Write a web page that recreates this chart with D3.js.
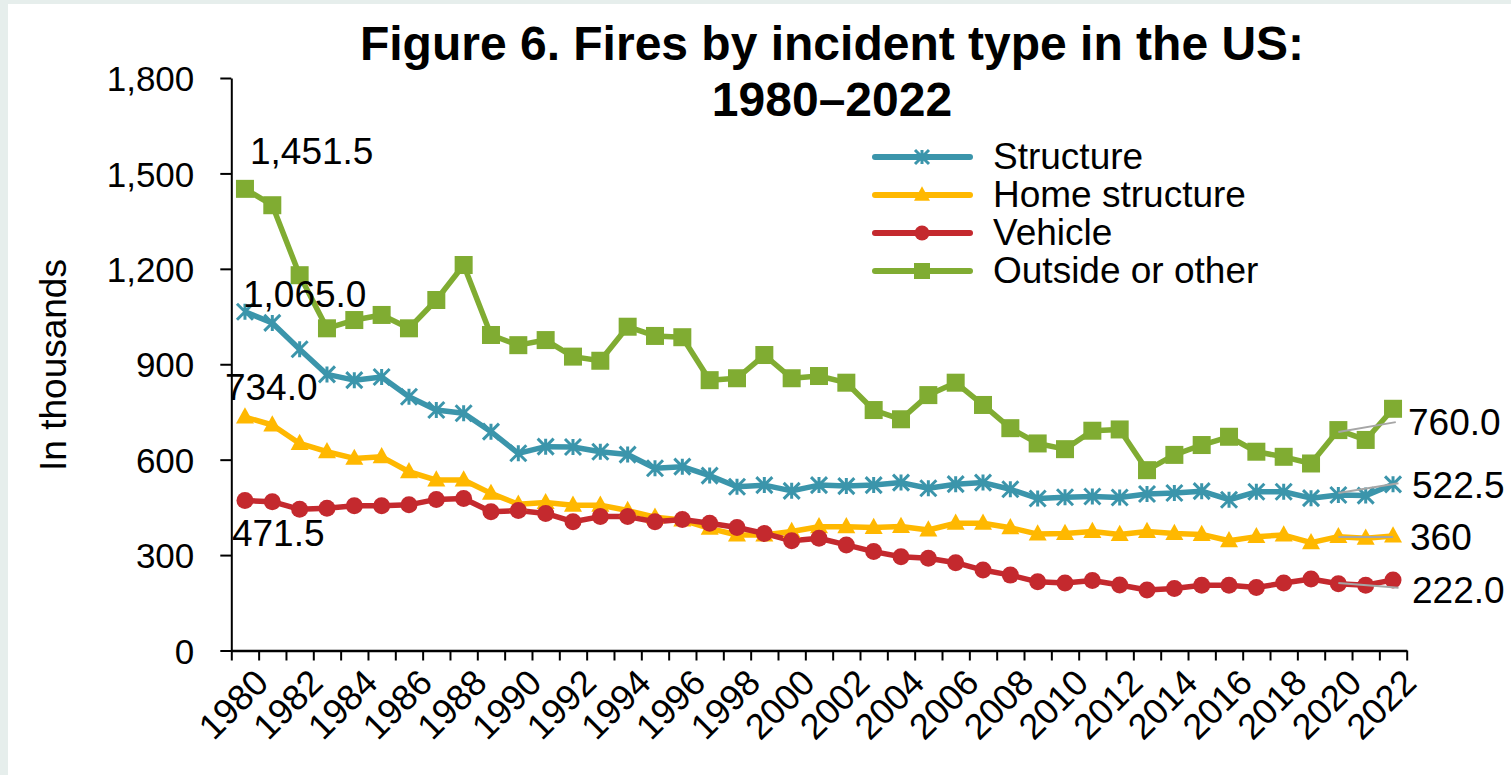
<!DOCTYPE html>
<html>
<head>
<meta charset="utf-8">
<script src="https://cdn.jsdelivr.net/npm/d3@7"></script>
<style>
  html, body { margin: 0; padding: 0; background: #e6eeec; }
  svg { display: block; }
  text { font-family: "Liberation Sans", Arial, sans-serif; fill: #000; }
</style>
</head>
<body>
<svg id="chart" width="1511" height="775"></svg>
<script>
// ---------- data ----------
const years = d3.range(1980, 2023);
const structure = [1065, 1030, 947, 868, 850, 860, 798, 756, 746, 688,
  620, 641, 640, 625, 616, 573, 578, 550, 515, 520,
  502, 520, 517, 520, 528, 510, 523, 528, 507, 478,
  482, 484, 481, 492, 495, 501, 474, 499, 499, 479,
  489, 487, 522.5];
const homeStructure = [734, 709, 651, 625, 604, 609, 562, 536, 536, 494,
  460, 465, 457, 457, 440, 419, 410, 384, 363, 363,
  374, 389, 389, 387, 390, 379, 400, 400, 386, 366,
  368, 374, 365, 374, 368, 365, 345, 358, 363, 339,
  358, 353, 360];
const vehicle = [471.5, 468, 444, 447, 455, 455, 458, 475, 478, 436,
  440, 431, 405, 421, 421, 405, 412, 400, 387, 368,
  345, 353, 332, 311, 295, 290, 276, 253, 237, 216,
  212, 220, 206, 190, 195, 205, 205, 198, 212, 225,
  210, 205, 222];
const outside = [1451.5, 1400, 1180, 1013, 1039, 1055, 1013, 1102, 1212, 992,
  960, 976, 924, 911, 1018, 989, 985, 850, 856, 929,
  856, 863, 842, 756, 727, 803, 842, 772, 699, 651,
  633, 691, 695, 567, 615, 646, 672, 625, 609, 588,
  693, 662, 760];
const seriesNames = ["Structure", "Home structure", "Vehicle", "Outside or other"];
const yTicks = [0, 300, 600, 900, 1200, 1500, 1800];
const xLabelYears = years.filter(y => (y - 1980) % 2 === 0);
// leader lines near the end labels (data units: [yearFrom, valueFrom, yearTo, valueTo])
const leaderLines = [
  [2020, 687, 2022.1, 718],
  [2020, 495, 2022.2, 526],
  [2020, 357, 2022, 357],
  [2020, 212, 2022.2, 197]
];

// ---------- styling ----------
const colors = ["#3b95ab", "#ffb800", "#c4292e", "#80ac32"];
const markers = ["star", "triangle", "circle", "square"];
const seriesData = [structure, homeStructure, vehicle, outside];

const svg = d3.select("#chart");
svg.append("rect").attr("x", 8).attr("y", 4).attr("width", 1503).attr("height", 771).attr("fill", "#fff");

const plotLeft = 231.3, plotRight = 1406.7, plotTop = 78, plotBottom = 650.5;

const x = d3.scaleBand().domain(years).range([plotLeft, plotRight]).padding(0);
const xc = d => x(d) + x.bandwidth() / 2;
const xLin = d3.scaleLinear().domain([1979.5, 2022.5]).range([plotLeft, plotRight]);
const y = d3.scaleLinear().domain([0, 1800]).range([plotBottom, plotTop]);

// Title
const title = svg.append("g").attr("text-anchor", "middle");
title.append("text").attr("x", 832).attr("y", 60).attr("font-size", 48).style("font-weight", "bold")
  .text("Figure 6. Fires by incident type in the US:");
title.append("text").attr("x", 832).attr("y", 116).attr("font-size", 48).style("font-weight", "bold")
  .text("1980–2022");

// Y axis
const yAxis = svg.append("g").attr("transform", `translate(${plotLeft},0)`)
  .call(d3.axisLeft(y).tickValues(yTicks).tickFormat(d3.format(",")).tickSize(11).tickSizeOuter(0).tickPadding(26));
yAxis.select(".domain").attr("stroke", "#000").attr("stroke-width", 2);
yAxis.selectAll(".tick line").attr("stroke", "#000").attr("stroke-width", 2);
yAxis.selectAll(".tick text").attr("font-size", 35).attr("dy", "0.36em")
  .style("font-family", '"Liberation Sans", Arial, sans-serif');

// X axis (ticks between categories)
const xAxis = svg.append("g").attr("transform", `translate(0,${plotBottom})`)
  .call(d3.axisBottom(xLin).tickValues(d3.range(1979.5, 2023, 1)).tickFormat("").tickSize(10).tickSizeOuter(0));
xAxis.select(".domain").attr("stroke", "#000").attr("stroke-width", 2.5);
xAxis.selectAll(".tick line").attr("stroke", "#000").attr("stroke-width", 2);

svg.append("g").selectAll("text").data(xLabelYears).join("text")
  .attr("transform", d => `translate(${xc(d) + 7},${plotBottom + 16}) rotate(-45)`)
  .attr("text-anchor", "end").attr("dy", "0.72em")
  .attr("font-size", 36).text(d => d);

// Y axis title
svg.append("text").attr("transform", "translate(66,365) rotate(-90)")
  .attr("text-anchor", "middle").attr("font-size", 37).text("In thousands");

// marker drawing
function drawMarker(g, type, color, size) {
  const s = size;
  if (type === "square") {
    g.append("rect").attr("x", -s / 2).attr("y", -s / 2).attr("width", s).attr("height", s).attr("fill", color);
  } else if (type === "circle") {
    g.append("circle").attr("r", s / 2).attr("fill", color);
  } else if (type === "triangle") {
    const h = s * 0.9;
    g.append("path").attr("d", `M0,${-h * 0.6}L${s / 2},${h * 0.4}L${-s / 2},${h * 0.4}Z`).attr("fill", color);
  } else if (type === "star") {
    const r = s / 2;
    g.append("path").attr("d", `M${-r},${-r}L${r},${r}M${-r},${r}L${r},${-r}M0,${-r}L0,${r}`)
      .attr("stroke", color).attr("stroke-width", 3).attr("fill", "none");
  }
}

// Lines
const line = d3.line().x((d, i) => xc(years[i])).y(d => y(d));
const markerSizes = [16, 18, 17, 18];
seriesData.forEach((vals, si) => {
  svg.append("path").datum(vals).attr("d", line)
    .attr("fill", "none").attr("stroke", colors[si]).attr("stroke-width", 5.5)
    .attr("stroke-linejoin", "round");
});
seriesData.forEach((vals, si) => {
  const g = svg.append("g");
  vals.forEach((v, i) => {
    const mg = g.append("g").attr("transform", `translate(${xc(years[i])},${y(v)})`);
    drawMarker(mg, markers[si], colors[si], markerSizes[si]);
  });
});

// Leader lines
svg.append("g").selectAll("line").data(leaderLines).join("line")
  .attr("x1", d => xLin(d[0])).attr("y1", d => y(d[1]))
  .attr("x2", d => xLin(d[2])).attr("y2", d => y(d[3]))
  .attr("stroke", "#a6a6a6").attr("stroke-width", 2);

// Data labels
const fmt1 = d3.format(",.1f");
const labelSpecs = [
  // [seriesIndex, yearIndex, text, dx, dy]
  [3, 0, fmt1(outside[0]), 5, -25],
  [0, 0, fmt1(structure[0]), -2, -5],
  [1, 0, fmt1(homeStructure[0]), -20, -17],
  [2, 0, fmt1(vehicle[0]), -13, 45],
  [3, 42, fmt1(outside[42]), 15, 26],
  [0, 42, fmt1(structure[42]), 19, 14],
  [1, 42, String(homeStructure[42]), 17, 14],
  [2, 42, fmt1(vehicle[42]), 19, 23]
];
svg.append("g").selectAll("text").data(labelSpecs).join("text")
  .attr("x", d => xc(years[d[1]]) + d[3])
  .attr("y", d => y(seriesData[d[0]][d[1]]) + d[4])
  .attr("font-size", 37).text(d => d[2]);

// Legend
const legend = svg.append("g");
const legendY = [157, 195, 233, 271];
seriesNames.forEach((name, i) => {
  const g = legend.append("g").attr("transform", `translate(0,${legendY[i]})`);
  g.append("line").attr("x1", 875).attr("x2", 970).attr("stroke", colors[i])
    .attr("stroke-width", 6).attr("stroke-linecap", "round");
  const mg = g.append("g").attr("transform", "translate(922,0)");
  drawMarker(mg, markers[i], colors[i], markerSizes[i] - 2);
  g.append("text").attr("x", 993).attr("y", 12).attr("font-size", 37).text(name);
});
</script>
</body>
</html>
